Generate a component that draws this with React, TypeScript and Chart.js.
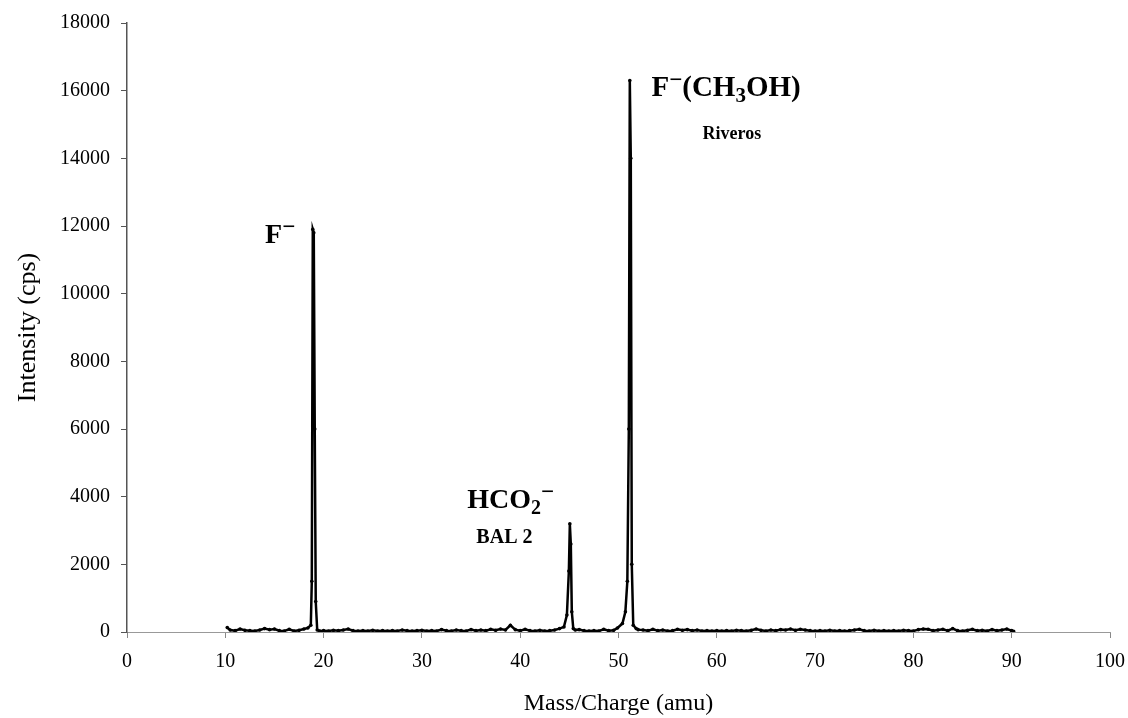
import React, { useEffect, useRef } from "react";
import { Chart, registerables } from "chart.js";

Chart.register(...registerables);

const mz: number[] = [
  10.2, 10.5, 11.0, 11.5, 12.0, 12.5, 13.0, 13.5, 14.0, 14.5, 15.0, 15.5, 16.0, 16.5, 17.0, 17.5, 18.0, 18.4, 18.7,
  18.8, 18.9, 19.0, 19.1, 19.2, 19.35, 19.6, 20.0, 20.5, 21.0, 21.5, 22.0, 22.5, 23.0, 23.5, 24.0, 24.5, 25.0,
  25.5, 26.0, 26.5, 27.0, 27.5, 28.0, 28.5, 29.0, 29.5, 30.0, 30.5, 31.0, 31.5, 32.0, 32.5, 33.0, 33.5, 34.0, 34.5,
  35.0, 35.5, 36.0, 36.5, 37.0, 37.5, 38.0, 38.5, 39.0, 39.5, 40.0, 40.5, 41.0, 41.5, 42.0, 42.5, 43.0, 43.5, 44.0,
  44.45, 44.75, 44.95, 45.05, 45.15, 45.25, 45.4, 45.6, 46.0, 46.5, 47.0, 47.5, 48.0, 48.5, 49.0, 49.5, 49.9, 50.4, 50.7,
  50.9, 51.05, 51.15, 51.25, 51.35, 51.5, 51.8, 52.0, 52.5, 53.0, 53.5, 54.0, 54.5, 55.0, 55.5, 56.0, 56.5, 57.0,
  57.5, 58.0, 58.5, 59.0, 59.5, 60.0, 60.5, 61.0, 61.5, 62.0, 62.5, 63.0, 63.5, 64.0, 64.5, 65.0, 65.5, 66.0, 66.5,
  67.0, 67.5, 68.0, 68.5, 69.0, 69.5, 70.0, 70.5, 71.0, 71.5, 72.0, 72.5, 73.0, 73.5, 74.0, 74.5, 75.0, 75.5, 76.0,
  76.5, 77.0, 77.5, 78.0, 78.5, 79.0, 79.5, 80.0, 80.5, 81.0, 81.5, 82.0, 82.5, 83.0, 83.5, 84.0, 84.5, 85.0, 85.5,
  86.0, 86.5, 87.0, 87.5, 88.0, 88.5, 89.0, 89.5, 90.0, 90.2,
];

const intensity: number[] = [
  130, 60, 40, 90, 50, 40, 30, 60, 100, 70, 90, 40, 30, 80, 30, 50, 90, 120, 200,
  1500, 11900, 11800, 6000, 900, 60, 30, 40, 30, 50, 40, 60, 90, 40, 30, 40, 30, 50,
  30, 40, 30, 40, 30, 60, 40, 30, 40, 50, 30, 40, 30, 70, 40, 30, 60, 40, 30,
  70, 40, 60, 40, 80, 50, 90, 60, 200, 70, 40, 80, 40, 30, 50, 30, 40, 60, 100,
  150, 500, 1800, 3200, 2600, 600, 100, 60, 70, 40, 30, 40, 30, 80, 40, 50, 120, 250, 600,
  1500, 6000, 16300, 14000, 2000, 200, 100, 70, 60, 40, 80, 40, 60, 30, 40, 80, 50, 70,
  40, 60, 30, 40, 30, 40, 30, 40, 30, 50, 40, 30, 50, 90, 50, 30, 60, 40, 70,
  60, 90, 50, 80, 60, 40, 30, 40, 30, 50, 30, 40, 30, 40, 60, 80, 40, 30, 50,
  30, 40, 30, 40, 30, 50, 40, 30, 70, 90, 80, 40, 60, 80, 40, 100, 40, 30, 50,
  80, 40, 50, 30, 70, 40, 60, 90, 40, 20,
];

const xTicks: number[] = [0, 10, 20, 30, 40, 50, 60, 70, 80, 90, 100];
const yTicks: number[] = [0, 2000, 4000, 6000, 8000, 10000, 12000, 14000, 16000, 18000];

const SERIF = '"Liberation Serif", "Times New Roman", serif';

type Seg = { t: string; size: number; dy?: number };

function drawRuns(ctx: CanvasRenderingContext2D, x: number, y: number, segs: Seg[]) {
  let cx = x;
  for (const s of segs) {
    ctx.font = `bold ${s.size}px ${SERIF}`;
    ctx.fillText(s.t, cx, y + (s.dy || 0));
    cx += ctx.measureText(s.t).width;
  }
}

const labelPlugin = {
  id: "peakLabels",
  afterDraw(chart: any) {
    const ctx: CanvasRenderingContext2D = chart.ctx;
    const xs = chart.scales.x;
    const ys = chart.scales.y;
    ctx.save();
    ctx.fillStyle = "#000";
    ctx.textBaseline = "alphabetic";
    ctx.textAlign = "left";
    drawRuns(ctx, xs.getPixelForValue(14.05), ys.getPixelForValue(11500), [
      { t: "F", size: 28 },
      { t: "\u2212", size: 23, dy: -9 },
    ]);
    drawRuns(ctx, xs.getPixelForValue(53.35), ys.getPixelForValue(15850), [
      { t: "F", size: 29 },
      { t: "\u2212", size: 23, dy: -9 },
      { t: "(CH", size: 29 },
      { t: "3", size: 21, dy: 6 },
      { t: "OH)", size: 29 },
    ]);
    drawRuns(ctx, xs.getPixelForValue(58.55), ys.getPixelForValue(14570), [{ t: "Riveros", size: 18 }]);
    drawRuns(ctx, xs.getPixelForValue(34.62), ys.getPixelForValue(3660), [
      { t: "HCO", size: 28 },
      { t: "2", size: 20, dy: 6 },
      { t: "\u2212", size: 23, dy: -9 },
    ]);
    drawRuns(ctx, xs.getPixelForValue(35.54), ys.getPixelForValue(2620), [
      { t: "BAL", size: 20 },
      { t: " 2", size: 20 },
    ]);
    ctx.restore();
  },
};

export default function App() {
  const ref = useRef<HTMLCanvasElement | null>(null);
  useEffect(() => {
    if (!ref.current) return;
    const points = mz.map((x, i) => ({ x, y: intensity[i] }));
    const font = { family: SERIF, size: 20 };
    const chart = new Chart(ref.current, {
      type: "line",
      data: {
        datasets: [
          {
            data: points,
            borderColor: "#000",
            backgroundColor: "#000",
            borderWidth: 2.5,
            pointRadius: 1.8,
            pointBorderWidth: 0,
            tension: 0,
          },
        ],
      },
      options: {
        animation: false,
        responsive: false,
        maintainAspectRatio: false,
        layout: { padding: { top: 16, right: 18, left: 0, bottom: 0 } },
        plugins: { legend: { display: false }, tooltip: { enabled: false } },
        scales: {
          x: {
            type: "linear",
            min: 0,
            max: 100,
            afterBuildTicks: (s: any) => {
              s.ticks = xTicks.map((v) => ({ value: v }));
            },
            afterFit: (s: any) => {
              s.height = 86;
              s.paddingRight = 0;
              s.paddingLeft = 0;
            },
            grid: { drawOnChartArea: false, drawTicks: true, tickLength: 6, color: "#888", tickColor: "#888" },
            border: { color: "#999", width: 1 },
            ticks: { color: "#000", font, padding: 12, maxRotation: 0 },
            title: {
              display: true,
              text: "Mass/Charge (amu)",
              color: "#000",
              font: { family: SERIF, size: 24 },
              padding: { top: 10, bottom: 0 },
            },
          },
          y: {
            type: "linear",
            min: 0,
            max: 18000,
            afterBuildTicks: (s: any) => {
              s.ticks = yTicks.map((v) => ({ value: v }));
            },
            afterFit: (s: any) => {
              s.width = 127;
            },
            grid: { drawOnChartArea: false, drawTicks: true, tickLength: 6, color: "#555", tickColor: "#555" },
            border: { color: "#555", width: 1.5 },
            ticks: { color: "#000", font, padding: 11, callback: (v: any) => String(v) },
            title: {
              display: true,
              text: "Intensity (cps)",
              color: "#000",
              font: { family: SERIF, size: 26 },
              padding: { top: 13, bottom: 4 },
            },
          },
        },
      },
      plugins: [labelPlugin],
    });
    return () => chart.destroy();
  }, []);
  return (
    <div style={{ position: "fixed", left: 0, top: 0, width: 1128, height: 718, background: "#fff" }}>
      <canvas ref={ref} width={1128} height={718} style={{ width: 1128, height: 718 }} />
    </div>
  );
}
